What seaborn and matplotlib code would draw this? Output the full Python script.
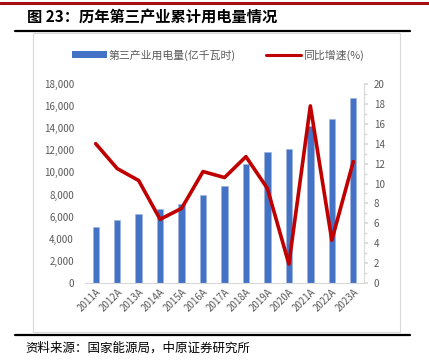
import numpy as np
import pandas as pd
import matplotlib
matplotlib.use("Agg")
import matplotlib.pyplot as plt
from matplotlib.lines import Line2D
from matplotlib.patches import Rectangle, Patch
from matplotlib.ticker import FuncFormatter, MultipleLocator
import seaborn as sns

years = ["2011A", "2012A", "2013A", "2014A", "2015A", "2016A", "2017A",
         "2018A", "2019A", "2020A", "2021A", "2022A", "2023A"]
power = [5100, 5690, 6270, 6660, 7160, 7960, 8810,
         10800, 11860, 12090, 14230, 14860, 16690]
growth = [14.0, 11.5, 10.3, 6.4, 7.5, 11.2, 10.6,
          12.7, 9.5, 1.9, 17.8, 4.3, 12.2]

bar_label = "第三产业用电量(亿千瓦时)"
line_label = "同比增速(%)"

sns.set_theme(style="white")
plt.rcParams["font.family"] = ["Noto Sans CJK SC", "DejaVu Sans"]

df = pd.DataFrame({"year": years, "power": power, "growth": growth})

fig = plt.figure(figsize=(4.29, 3.63), dpi=100)
W, H = 429, 363

def fx(px):
    return px / W

def fy(py):
    return 1 - py / H

# decorations
fig.add_artist(Line2D([0, 1], [fy(3), fy(3)], color="#A50F15", lw=2.2))
fig.add_artist(Line2D([fx(15), fx(410)], [fy(31), fy(31)], color="black", lw=1.6))
fig.add_artist(Line2D([fx(15), fx(410)], [fy(335), fy(335)], color="black", lw=1.6))
fig.add_artist(Rectangle((fx(33), fy(332)), fx(400) - fx(33), fy(33) - fy(332),
                         fill=False, edgecolor="#D9D9D9", lw=0.8))
fig.text(fx(27), fy(17), "图 23：历年第三产业累计用电量情况", fontsize=11,
         fontweight="bold", va="center", ha="left", color="black")
fig.text(fx(25), fy(348), "资料来源：国家能源局，中原证券研究所", fontsize=9,
         va="center", ha="left", color="black")

ax = fig.add_axes([fx(85), fy(283), fx(364) - fx(85), fy(84) - fy(283)])
sns.barplot(data=df, x="year", y="power", color="#4472C4", width=0.3,
            saturation=1, edgecolor="#9DB4E0", linewidth=0.4, ax=ax)
ax.set_ylim(0, 18000)
ax.set_xlim(-0.5, len(years) - 0.5)
ax.yaxis.set_major_locator(MultipleLocator(2000))
ax.yaxis.set_major_formatter(FuncFormatter(lambda v, p: f"{int(v):,}"))
ax.set_xlabel("")
ax.set_ylabel("")
for s in ["top", "right", "left"]:
    ax.spines[s].set_visible(False)
ax.spines["bottom"].set_color("#D9D9D9")
ax.spines["bottom"].set_linewidth(0.8)
ax.tick_params(axis="y", length=0, labelsize=7, labelcolor="#595959", pad=8)
ax.tick_params(axis="x", length=0, labelsize=7, labelcolor="#595959", pad=3)
plt.setp(ax.get_xticklabels(), rotation=45, ha="right", rotation_mode="anchor")

ax2 = ax.twinx()
sns.lineplot(x=np.arange(len(years)), y=df["growth"], color="#C00000", lw=2.6,
             ax=ax2)
ax2.set_ylim(0, 20)
ax2.set_xlim(-0.5, len(years) - 0.5)
ax2.yaxis.set_major_locator(MultipleLocator(2))
ax2.yaxis.set_minor_locator(MultipleLocator(1))
ax2.set_ylabel("")
for s in ["top", "left", "bottom"]:
    ax2.spines[s].set_visible(False)
ax2.spines["right"].set_color("#D9D9D9")
ax2.spines["right"].set_linewidth(0.8)
ax2.tick_params(axis="y", which="major", length=3, color="#D9D9D9",
                labelsize=7, labelcolor="#595959", pad=4, direction="out")
ax2.tick_params(axis="y", which="minor", length=2, color="#D9D9D9",
                direction="out")

handles = [Patch(facecolor="#4472C4", edgecolor="none"),
           Line2D([0], [0], color="#C00000", lw=2.2)]
fig.legend(handles, [bar_label, line_label], loc="center",
           bbox_to_anchor=(fx(218), fy(55)), ncol=2, frameon=False,
           fontsize=7.8, labelcolor="#595959", handlelength=3.2,
           handleheight=0.55, handletextpad=0.2, columnspacing=2.8)

fig.savefig("out.png", dpi=100)
